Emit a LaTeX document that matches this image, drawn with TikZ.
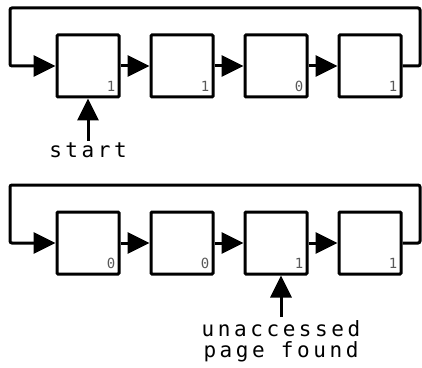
\documentclass[tikz,border=0pt]{standalone}
\usepackage{fontspec}
\newfontfamily\tagfont[LetterSpace=17]{DejaVu Sans Mono}
\newfontfamily\bitfont{DejaVu Sans Mono}
\usetikzlibrary{arrows.meta, positioning}

\tikzset{
	frame/.style={draw, line width=3pt, minimum size=62pt, inner sep=0pt, rounded corners=1pt},
	bit/.style={text=black!65, font=\fontsize{14}{14}\selectfont\bitfont, inner sep=0pt, anchor=south east},
	link/.style={line width=3pt, -{Triangle[length=22pt,width=21pt]}},
	tag/.style={font=\fontsize{21}{21}\selectfont\tagfont, align=center, inner sep=0pt}
}

\begin{document}
\begin{tikzpicture}[x=1pt, y=1pt]

\useasboundingbox (0,0) rectangle (422,367);

% before the sweep
\foreach \n/\b in {1/1,2/1,3/0,4/1}{
	\node[frame] (u\n) at (94*\n-6, 301) {};
	\node[bit] (ub\n) at ([shift={(-5,7)}]u\n.south east) {\b};
}
\foreach \a/\b in {1/2,2/3,3/4}{
	\draw[link] (u\a) -- (u\b);
}
\coordinate (uR) at (420,359);
\coordinate (uL) at (10,359);
\draw[link, rounded corners=2pt] (u4.east) -| (uR) -- (uL) |- (u1.west);

\node[tag, anchor=base] (start) at (88,209) {start};
\draw[link] ([yshift=2pt]start.north) -- (u1.south);

% after the sweep
\foreach \n/\b in {1/0,2/0,3/1,4/1}{
	\node[frame] (l\n) at (94*\n-6, 124) {};
	\node[bit] (lb\n) at ([shift={(-5,7)}]l\n.south east) {\b};
}
\foreach \a/\b in {1/2,2/3,3/4}{
	\draw[link] (l\a) -- (l\b);
}
\coordinate (lR) at (420,182);
\coordinate (lL) at (10,182);
\draw[link, rounded corners=2pt] (l4.east) -| (lR) -- (lL) |- (l1.west);

\node[tag, anchor=north] (found) at (281,47) {unaccessed\\page found};
\draw[link] ([yshift=3pt]found.north) -- (found.north |- l3.south);

\end{tikzpicture}
\end{document}
